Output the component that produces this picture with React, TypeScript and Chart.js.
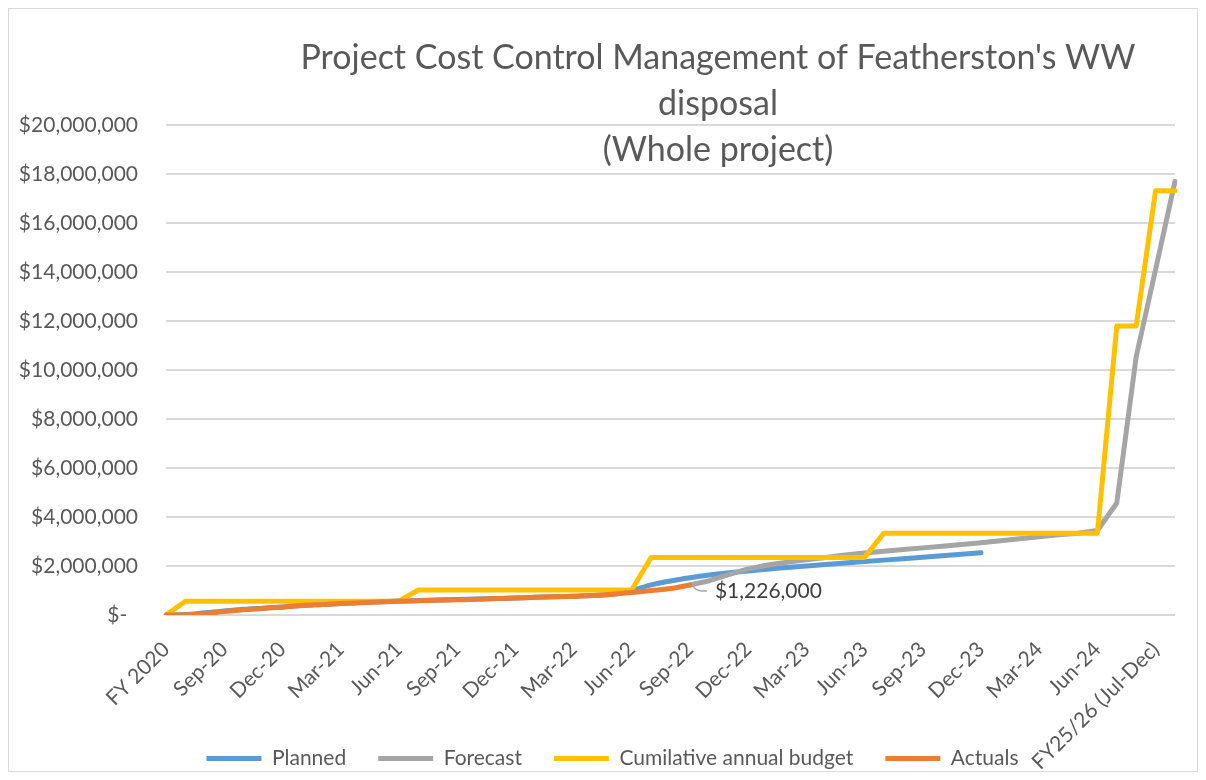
import React, { useEffect, useRef } from 'react';
import { Chart, registerables } from 'chart.js';

Chart.register(...registerables);
Chart.defaults.font.family = 'Lato, sans-serif';
Chart.defaults.color = '#595959';

const categories = [
  'FY 2020',
  'Jul-20', 'Aug-20', 'Sep-20', 'Oct-20', 'Nov-20', 'Dec-20',
  'Jan-21', 'Feb-21', 'Mar-21', 'Apr-21', 'May-21', 'Jun-21',
  'Jul-21', 'Aug-21', 'Sep-21', 'Oct-21', 'Nov-21', 'Dec-21',
  'Jan-22', 'Feb-22', 'Mar-22', 'Apr-22', 'May-22', 'Jun-22',
  'Jul-22', 'Aug-22', 'Sep-22', 'Oct-22', 'Nov-22', 'Dec-22',
  'Jan-23', 'Feb-23', 'Mar-23', 'Apr-23', 'May-23', 'Jun-23',
  'Jul-23', 'Aug-23', 'Sep-23', 'Oct-23', 'Nov-23', 'Dec-23',
  'Jan-24', 'Feb-24', 'Mar-24', 'Apr-24', 'May-24', 'Jun-24',
  'FY24/25 (Jul-Dec)', 'FY24/25 (Jan-Jun)', 'FY25/26 (Jul-Dec)', 'FY25/26 (Jan-Jun)',
];

const planned = [
  0, 20000, 90000, 160000, 230000, 280000, 330000, 390000, 430000, 470000,
  510000, 540000, 570000, 590000, 610000, 630000, 650000, 670000, 690000, 720000,
  740000, 770000, 800000, 850000, 1000000, 1230000, 1390000, 1520000, 1630000, 1720000,
  1800000, 1870000, 1940000, 2000000, 2060000, 2120000, 2180000, 2240000, 2300000, 2360000,
  2420000, 2480000, 2540000,
  null, null, null, null, null, null, null, null, null, null,
];

const forecast = [
  null, null, null, null, null, null, null, null, null, null,
  null, null, null, null, null, null, null, null, null, null,
  null, null, null, null, null, null, null,
  1226000, 1400000, 1650000, 1880000, 2040000, 2150000, 2250000, 2350000, 2450000, 2530000,
  2600000, 2670000, 2740000, 2810000, 2880000, 2950000, 3030000, 3110000, 3190000, 3270000,
  3340000, 3450000, 4570000, 10540000, 14100000, 17700000,
];

const budget = [
  0,
  560000, 560000, 560000, 560000, 560000, 560000, 560000, 560000, 560000, 560000, 560000, 560000,
  1020000, 1020000, 1020000, 1020000, 1020000, 1020000, 1020000, 1020000, 1020000, 1020000, 1020000, 1020000,
  2350000, 2350000, 2350000, 2350000, 2350000, 2350000, 2350000, 2350000, 2350000, 2350000, 2350000, 2350000,
  3340000, 3340000, 3340000, 3340000, 3340000, 3340000, 3340000, 3340000, 3340000, 3340000, 3340000, 3340000,
  11800000, 11800000,
  17320000, 17320000,
];

const actuals = [
  0, 0, 60000, 140000, 210000, 270000, 320000, 390000, 430000, 470000,
  500000, 530000, 560000, 580000, 600000, 620000, 640000, 670000, 690000, 720000,
  740000, 770000, 800000, 850000, 920000, 1000000, 1080000, 1226000,
  null, null, null, null, null, null, null, null, null, null,
  null, null, null, null, null, null, null, null, null, null,
  null, null, null, null, null,
];

const titleLines = [
  "Project Cost Control Management of Featherston's WW",
  'disposal',
  '(Whole project)',
];

const fmtMoney = (v: number) => (v === 0 ? '$-  ' : '$' + Math.round(v).toLocaleString('en-US'));

const titlePlugin = {
  id: 'overlayTitle',
  afterDraw(chart: any) {
    const { ctx } = chart;
    ctx.save();
    ctx.font = '34px Lato, sans-serif';
    ctx.fillStyle = '#595959';
    ctx.textAlign = 'center';
    ctx.textBaseline = 'middle';
    titleLines.forEach((line, i) => {
      ctx.fillText(line, 709, 49 + i * 46);
    });
    ctx.restore();
  },
};

// let tick labels overflow their scale boxes (Excel lets them overlap)
const noLabelClipPlugin = {
  id: 'noLabelClip',
  beforeDraw(chart: any) {
    Object.values(chart.scales).forEach((s: any) => {
      s._computeLabelArea = () => undefined;
    });
  },
};

const actualLabelPlugin = {
  id: 'actualLabel',
  afterDatasetsDraw(chart: any) {
    const meta = chart.getDatasetMeta(3);
    let last = -1;
    actuals.forEach((v, i) => {
      if (v !== null) last = i;
    });
    const pt = meta.data[last];
    if (!pt) return;
    const { ctx } = chart;
    ctx.save();
    ctx.strokeStyle = '#a6a6a6';
    ctx.lineWidth = 1.5;
    ctx.beginPath();
    ctx.moveTo(pt.x + 3, pt.y + 1);
    ctx.quadraticCurveTo(pt.x + 6, pt.y + 6, pt.x + 12, pt.y + 6);
    ctx.lineTo(pt.x + 17, pt.y + 6);
    ctx.stroke();
    ctx.font = '21px Lato, sans-serif';
    ctx.fillStyle = '#404040';
    ctx.textAlign = 'left';
    ctx.textBaseline = 'middle';
    ctx.fillText(fmtMoney(actuals[last] as number), pt.x + 25, pt.y + 6.5);
    ctx.restore();
  },
};

export default function App() {
  const ref = useRef<HTMLCanvasElement>(null);

  useEffect(() => {
    const canvas = ref.current;
    if (!canvas) return;
    const common = {
      pointRadius: 0,
      pointHoverRadius: 0,
      pointStyle: 'line',
      borderWidth: 5,
      borderCapStyle: 'round',
      borderJoinStyle: 'round',
      fill: false,
      spanGaps: false,
    };
    const chart = new Chart(canvas, {
      type: 'line',
      data: {
        labels: categories,
        datasets: [
          { ...common, label: 'Planned', data: planned, borderColor: '#5B9BD5', backgroundColor: '#5B9BD5', order: 4, cubicInterpolationMode: 'monotone' },
          { ...common, label: 'Forecast', data: forecast, borderColor: '#A5A5A5', backgroundColor: '#A5A5A5', order: 3, tension: 0 },
          { ...common, label: 'Cumilative annual budget', data: budget, borderColor: '#FFC000', backgroundColor: '#FFC000', order: 2, tension: 0 },
          { ...common, label: 'Actuals', data: actuals, borderColor: '#ED7D31', backgroundColor: '#ED7D31', order: 1, cubicInterpolationMode: 'monotone' },
        ] as any,
      },
      options: {
        responsive: false,
        animation: false,
        events: [],
        layout: { padding: { top: 116, left: 41, right: 22, bottom: 0 } },
        scales: {
          x: {
            type: 'category',
            offset: false,
            grid: { display: false, drawTicks: false },
            border: { display: false },
            ticks: {
              autoSkip: false,
              maxRotation: 45,
              minRotation: 45,
              padding: 22,
              color: '#595959',
              font: { size: 21 },
              callback: (_v: any, i: number) => (i % 3 === 0 ? categories[i] : null),
            },
            afterFit: (s: any) => {
              s.height = 101;
            },
          },
          y: {
            min: 0,
            max: 20000000,
            grid: { color: '#d9d9d9', lineWidth: 2, drawTicks: false },
            border: { display: false },
            ticks: {
              stepSize: 2000000,
              padding: 28,
              color: '#595959',
              font: { size: 21 },
              callback: (v: any) => fmtMoney(Number(v)),
            },
            afterFit: (s: any) => {
              s.width = 116;
            },
          },
        },
        plugins: {
          title: { display: false },
          tooltip: { enabled: false },
          legend: {
            position: 'bottom',
            labels: {
              usePointStyle: true,
              pointStyleWidth: 55,
              padding: 32,
              color: '#595959',
              font: { size: 21 },
              sort: (a: any, b: any) => a.datasetIndex - b.datasetIndex,
            },
          },
        },
      } as any,
      plugins: [noLabelClipPlugin, titlePlugin, actualLabelPlugin],
    });
    return () => chart.destroy();
  }, []);

  return (
    <div
      style={{
        width: 1190,
        height: 764,
        border: '1px solid #d9d9d9',
        boxSizing: 'border-box',
        overflow: 'hidden',
        position: 'relative',
        background: '#ffffff',
      }}
    >
      <canvas ref={ref} width={1188} height={770} style={{ display: 'block', width: 1188, height: 770 }} />
    </div>
  );
}
